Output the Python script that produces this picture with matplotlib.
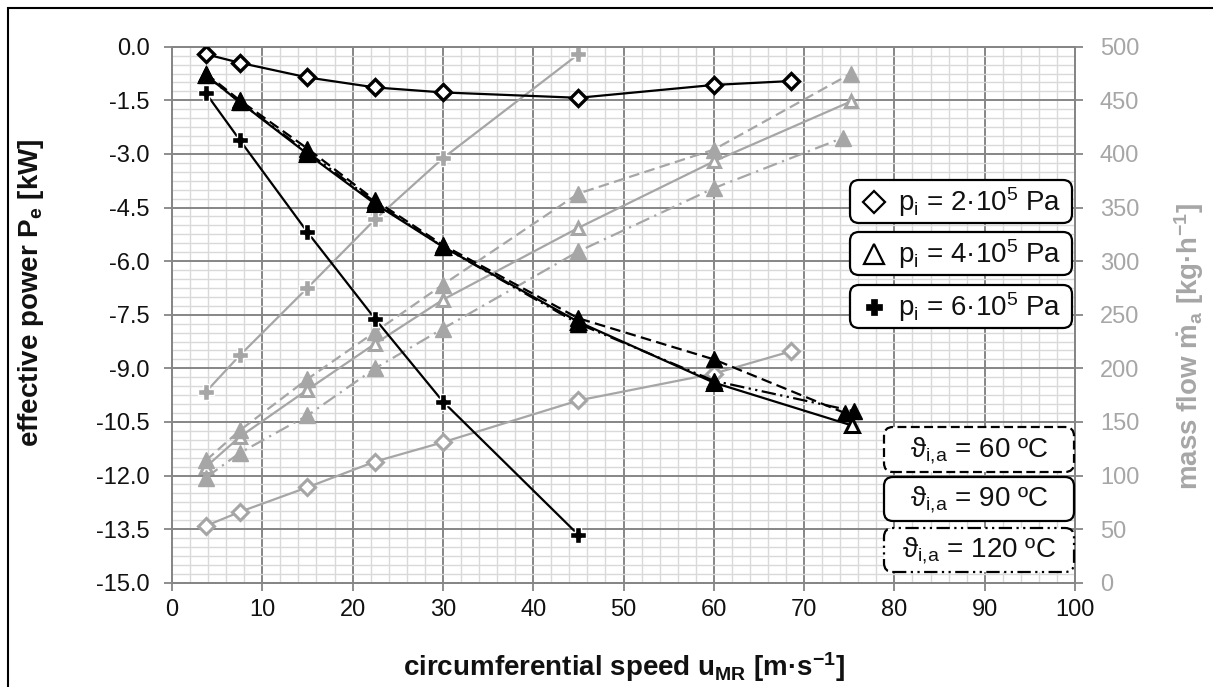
import matplotlib
matplotlib.use('Agg')
import matplotlib.pyplot as plt
from matplotlib.patches import FancyBboxPatch, Rectangle
from matplotlib.lines import Line2D
import matplotlib.transforms as mtransforms
from matplotlib.ticker import MultipleLocator, FormatStrFormatter

plt.rcParams['font.family'] = ['Liberation Sans', 'DejaVu Sans']
plt.rcParams['mathtext.fontset'] = 'custom'
plt.rcParams['mathtext.rm'] = 'Liberation Sans'
plt.rcParams['mathtext.it'] = 'Liberation Sans:italic'
plt.rcParams['mathtext.bf'] = 'Liberation Sans:bold'
plt.rcParams['axes.unicode_minus'] = False

# ---------------- data ----------------
# p_i = 2e5 Pa (diamonds)
u_d = [3.75, 7.5, 15, 22.5, 30, 45, 60, 68.6]
P_d = [-0.21, -0.45, -0.86, -1.14, -1.28, -1.43, -1.07, -0.96]
m_d = [53, 66, 89, 113, 131, 170, 195, 216]

# p_i = 6e5 Pa (plus)
u_p = [3.75, 7.5, 15, 22.5, 30, 45]
P_p = [-1.30, -2.61, -5.19, -7.62, -9.93, -13.66]
m_p = [178, 212, 275, 339, 396, 493]

# p_i = 4e5 Pa (triangles), three inlet temperatures
u_t60_P = [3.75, 7.5, 15, 22.5, 30, 45, 60, 74.5]
P_t60 = [-0.75, -1.50, -2.85, -4.30, -5.55, -7.60, -8.75, -10.25]
u_t90_P = [3.75, 7.5, 15, 22.5, 30, 45, 60, 75.3]
P_t90 = [-0.80, -1.55, -3.00, -4.40, -5.60, -7.70, -9.40, -10.60]
u_t120_P = [3.75, 7.5, 15, 22.5, 30, 45, 60, 75.5]
P_t120 = [-0.80, -1.55, -2.95, -4.35, -5.60, -7.75, -9.35, -10.20]

u_t60_m = [3.75, 7.5, 15, 22.5, 30, 45, 60, 75.2]
m_t60 = [114, 142, 190, 234, 278, 363, 404, 475]
u_t90_m = [3.75, 7.5, 15, 22.5, 30, 45, 60, 75.2]
m_t90 = [108, 136, 180, 223, 264, 331, 393, 449]
u_t120_m = [3.75, 7.5, 15, 22.5, 30, 45, 60, 74.3]
m_t120 = [98, 121, 156, 200, 237, 309, 368, 415]

pressure_labels = [r"p$_{\mathrm{i}}$ = 2·10$^{\mathrm{5}}$ Pa",
                   r"p$_{\mathrm{i}}$ = 4·10$^{\mathrm{5}}$ Pa",
                   r"p$_{\mathrm{i}}$ = 6·10$^{\mathrm{5}}$ Pa"]
temp_labels = [r"ϑ$_{\mathrm{i,\!a}}$ = 60 ºC",
               r"ϑ$_{\mathrm{i,\!a}}$ = 90 ºC",
               r"ϑ$_{\mathrm{i,\!a}}$ = 120 ºC"]

# ---------------- styles ----------------
W_PX, H_PX = 1213, 687
GRAY = '#a6a6a6'
GRID_MAJ = '#868686'
GRID_MIN = '#d9d9d9'
TXT = '#111111'
DASH = (0, (4.8, 2.4))
DDOT = (0, (6.5, 2.0, 1.0, 2.0, 1.0, 2.0))
GDDOT = (0, (6.5, 2.5, 1.0, 2.5))

fig = plt.figure(figsize=(W_PX / 100, H_PX / 100), dpi=100)
L, R, T, B = 172, 1075, 46.7, 582.7
rect = [L / W_PX, 1 - B / H_PX, (R - L) / W_PX, (B - T) / H_PX]
ax = fig.add_axes(rect)
ax.set_xlim(0, 100)
ax.set_ylim(-15, 0)
ax.xaxis.set_major_locator(MultipleLocator(10))
ax.xaxis.set_minor_locator(MultipleLocator(2))
ax.yaxis.set_major_locator(MultipleLocator(1.5))
ax.yaxis.set_minor_locator(MultipleLocator(0.25))
ax.yaxis.set_major_formatter(FormatStrFormatter('%.1f'))
ax.grid(which='minor', color=GRID_MIN, lw=1.0)
ax.grid(which='major', color=GRID_MAJ, lw=1.4)
ax.set_axisbelow(True)
ax.tick_params(which='minor', length=0)
ax.tick_params(which='major', length=6, width=1.3, color=GRID_MAJ,
               labelsize=17, labelcolor=TXT, direction='out')
ax.tick_params(axis='y', pad=10)
ax.tick_params(axis='x', pad=6)
for s in ax.spines.values():
    s.set_color(GRID_MAJ)
    s.set_linewidth(1.4)

ax.set_xlabel(r"circumferential speed u$_{\mathbf{MR}}$ [m·s$^{\mathbf{-1}}$]",
              fontsize=20, fontweight='bold', color=TXT)
ax.set_ylabel(r"effective power P$_{\mathbf{e}}$ [kW]",
              fontsize=20, fontweight='bold', color=TXT)
ax.xaxis.set_label_coords(0.5, -0.125)
ax.yaxis.set_label_coords(-0.140, 0.54)

ax2 = ax.twinx()
ax2.set_ylim(0, 500)
ax2.yaxis.set_major_locator(MultipleLocator(50))
ax2.tick_params(which='major', length=6, width=1.3, color=GRID_MAJ,
                labelsize=17, labelcolor=GRAY, pad=12)
for s in ax2.spines.values():
    s.set_color(GRID_MAJ)
    s.set_linewidth(1.4)
ax2.set_ylabel(r"mass flow $\mathbf{\dot{m}}_{\mathbf{a}}$ [kg·h$^{\mathbf{-1}}$]",
               fontsize=20, fontweight='bold', color=GRAY)
ax2.yaxis.set_label_coords(1.108, 0.44)

ax3 = fig.add_axes(rect, sharex=ax, sharey=ax)
ax3.axis('off')
ax3.patch.set_visible(False)

# ---- gray (mass flow) series ----
glw = 1.6
ax2.plot(u_d, m_d, color=GRAY, lw=glw, marker='D', ms=8, mfc='white', mec=GRAY, mew=2.2)
ax2.plot(u_p, m_p, color=GRAY, lw=glw, marker='P', ms=12, mfc=GRAY, mec='white', mew=1.0)
ax2.plot(u_t90_m, m_t90, color=GRAY, lw=glw, marker='^', ms=9, mfc='white', mec=GRAY, mew=2.2)
ax2.plot(u_t60_m, m_t60, color=GRAY, lw=glw, ls=DASH, marker='^', ms=11, mfc=GRAY, mec=GRAY)
ax2.plot(u_t120_m, m_t120, color=GRAY, lw=glw, ls=GDDOT, marker='^', ms=11, mfc=GRAY, mec=GRAY)

# ---- black (power) series ----
blw = 1.6
ax3.plot(u_d, P_d, color='black', lw=blw, marker='D', ms=8, mfc='white', mec='black', mew=2.4)
ax3.plot(u_p, P_p, color='black', lw=blw, marker='P', ms=12, mfc='black', mec='white', mew=1.0)
ax3.plot(u_t90_P, P_t90, color='black', lw=blw, marker='^', ms=10, mfc='white', mec='black', mew=2.2)
ax3.plot(u_t60_P, P_t60, color='black', lw=blw, ls=DASH, marker='^', ms=11, mfc='black', mec='black')
ax3.plot(u_t120_P, P_t120, color='black', lw=blw, ls=DDOT, marker='^', ms=11, mfc='black', mec='black')

# ---------------- legend boxes (pixel coords) ----------------
ident = mtransforms.IdentityTransform()


def box(x0, y0, x1, y1, ls):
    p = FancyBboxPatch((x0, H_PX - y1), x1 - x0, y1 - y0,
                       boxstyle='round,pad=0,rounding_size=9', transform=ident,
                       fc='white', ec='black', lw=1.6, ls=ls, zorder=5)
    fig.add_artist(p)


p_boxes = [(850, 180, 1072, 223), (850, 232, 1072, 275), (850, 285, 1072, 328)]
p_markers = [dict(marker='D', ms=11, mfc='white', mec='black', mew=1.6),
             dict(marker='^', ms=14, mfc='white', mec='black', mew=1.6),
             dict(marker='P', ms=11, mfc='black', mec='black', mew=0.5)]
for (x0, y0, x1, y1), lab, mk in zip(p_boxes, pressure_labels, p_markers):
    box(x0, y0, x1, y1, '-')
    yc = (y0 + y1) / 2
    fig.add_artist(Line2D([874], [H_PX - yc], transform=ident, ls='none', zorder=6, **mk))
    fig.text(898 / W_PX, 1 - (yc + 1) / H_PX, lab, fontsize=20, ha='left', va='center',
             zorder=7, color=TXT)

t_boxes = [(884, 427, 1074, 472), (884, 477, 1074, 521), (884, 528, 1074, 572)]
t_ls = [(0, (4, 2)), '-', (0, (6, 2, 1, 2, 1, 2))]
for (x0, y0, x1, y1), lab, ls in zip(t_boxes, temp_labels, t_ls):
    box(x0, y0, x1, y1, ls)
    fig.text(((x0 + x1) / 2) / W_PX, 1 - ((y0 + y1) / 2 + 1) / H_PX, lab, fontsize=20,
             ha='center', va='center', zorder=7, color=TXT)

# outer frame (left & top visible)
fig.add_artist(Rectangle((8, -20), 1400, H_PX - 8 + 20, transform=ident,
                         fill=False, ec='black', lw=1.5, zorder=10))

fig.savefig('out.png', dpi=100)
